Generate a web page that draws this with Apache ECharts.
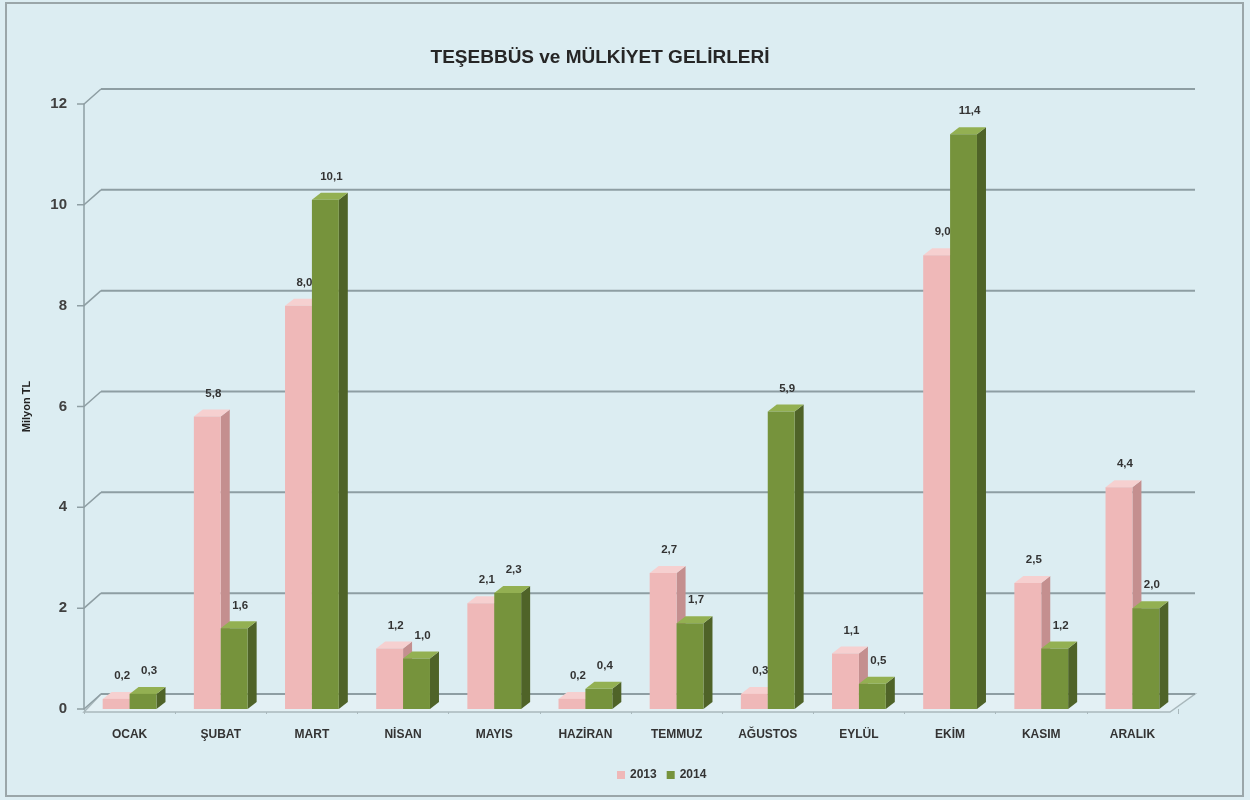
<!DOCTYPE html>
<html>
<head>
<meta charset="utf-8">
<script src="https://cdn.jsdelivr.net/npm/echarts@6/dist/echarts.min.js"></script>
<style>
html,body{margin:0;padding:0;background:#dcedf2;}
#c{width:1250px;height:800px;}
</style>
</head>
<body>
<div id="c"></div>
<script>
const categories = ['OCAK','ŞUBAT','MART','NİSAN','MAYIS','HAZİRAN','TEMMUZ','AĞUSTOS','EYLÜL','EKİM','KASIM','ARALIK'];
const values2013 = [0.2, 5.8, 8.0, 1.2, 2.1, 0.2, 2.7, 0.3, 1.1, 9.0, 2.5, 4.4];
const values2014 = [0.3, 1.6, 10.1, 1.0, 2.3, 0.4, 1.7, 5.9, 0.5, 11.4, 1.2, 2.0];
const yTicks = [0, 2, 4, 6, 8, 10, 12];
const seriesNames = ['2013', '2014'];

const WALL_DX = 17, WALL_DY = -15;
const BAR_DX = 9, BAR_DY = -7;
const FONT = '"Liberation Sans", "DejaVu Sans", sans-serif';

const palette = [
  {front: '#efb8b8', side: '#c48f8f', top: '#f6d0d0', legend: '#efb8b8'},
  {front: '#76933c', side: '#4f6328', top: '#93b052', legend: '#76933c'}
];

function fmt(v){ return v.toFixed(1).replace('.', ','); }

function barRender(s){
  return function(params, api){
    const i = api.value(0), v = api.value(1);
    const top = api.coord([i, v]);
    const base = api.coord([i, 0]);
    const bw = api.size([1, 0])[0] * 0.295;
    const x0 = top[0] - bw + s * bw;
    const c = palette[s];
    const y1 = top[1], y0 = base[1];
    return {
      type: 'group',
      children: [
        {type: 'polygon', shape: {points: [[x0+bw, y1],[x0+bw+BAR_DX, y1+BAR_DY],[x0+bw+BAR_DX, y0+BAR_DY],[x0+bw, y0]]}, style: {fill: c.side}},
        {type: 'polygon', shape: {points: [[x0, y1],[x0+BAR_DX, y1+BAR_DY],[x0+bw+BAR_DX, y1+BAR_DY],[x0+bw, y1]]}, style: {fill: c.top}},
        {type: 'rect', shape: {x: x0, y: y1, width: bw, height: y0 - y1}, style: {fill: c.front}},
        {type: 'text', z2: 100, style: {x: x0 + bw/2 + 6, y: y1 - 17, text: fmt(v), fill: '#333', font: 'bold 11.5px ' + FONT, align: 'center', verticalAlign: 'bottom'}}
      ]
    };
  };
}

function wallRender(params, api){
  const v = api.value(1);
  const p = api.coord([0, v]);
  const cs = params.coordSys;
  const y = p[1];
  const xl = cs.x;
  const xr = cs.x + cs.width;
  const children = [
    {type: 'polyline', shape: {points: [[xl-7, y],[xl, y],[xl+WALL_DX, y+WALL_DY]]}, style: {stroke: '#8e9ea3', lineWidth: 1.5, fill: null}},
    {type: 'line', shape: {x1: xl+WALL_DX, y1: y+WALL_DY, x2: xr+WALL_DX, y2: y+WALL_DY}, style: {stroke: '#8e9ea3', lineWidth: 2}}
  ];
  if (v === 0) {
    children.unshift({type: 'polygon', shape: {points: [[xl, y+3],[xr-8, y+3],[xr+WALL_DX, y+WALL_DY],[xl+WALL_DX, y+WALL_DY]]}, style: {fill: '#e3f0f4', stroke: '#a9b8bc', lineWidth: 1.5}});
  }
  return {type: 'group', children: children};
}

const chart = echarts.init(document.getElementById('c'));
chart.setOption({
  backgroundColor: '#dcedf2',
  animation: false,
  title: {
    text: 'TEŞEBBÜS ve MÜLKİYET GELİRLERİ',
    left: 595, top: 43, textAlign: 'center',
    textStyle: {fontFamily: FONT, fontWeight: 'bold', fontSize: 19, color: '#262626'}
  },
  graphic: [
    {type: 'rect', shape: {x: 6, y: 3, width: 1237, height: 793}, style: {fill: null, stroke: '#9aa6a9', lineWidth: 2}, silent: true}
  ],
  legend: {
    data: seriesNames,
    left: 612, top: 764,
    icon: 'rect', itemWidth: 8, itemHeight: 8, itemGap: 10,
    textStyle: {fontFamily: FONT, fontWeight: 'bold', fontSize: 12, color: '#333'}
  },
  grid: {left: 84, right: 72, top: 104, bottom: 91},
  xAxis: {
    type: 'category', data: categories,
    axisLine: {show: false},
    axisTick: {show: true, length: 5, lineStyle: {color: '#a9b8bc'}},
    axisLabel: {margin: 20, fontFamily: FONT, fontWeight: 'bold', fontSize: 12, color: '#333'}
  },
  yAxis: {
    type: 'value', min: 0, max: 12, interval: 2,
    name: 'Milyon TL', nameLocation: 'middle', nameGap: 52, nameRotate: 90,
    nameTextStyle: {fontFamily: FONT, fontWeight: 'bold', fontSize: 11, color: '#222'},
    axisLine: {show: true, lineStyle: {color: '#8e9ea3', width: 1.5}},
    axisTick: {show: false},
    splitLine: {show: false},
    axisLabel: {margin: 17, fontFamily: FONT, fontWeight: 'bold', fontSize: 15, color: '#404040'}
  },
  series: [
    {type: 'custom', name: 'wall', silent: true, z: 1, data: yTicks.map(v => [0, v]), encode: {x: 0, y: 1}, renderItem: wallRender},
    {type: 'custom', name: seriesNames[0], z: 2, itemStyle: {color: palette[0].legend}, data: values2013.map((v, i) => [i, v]), encode: {x: 0, y: 1}, renderItem: barRender(0)},
    {type: 'custom', name: seriesNames[1], z: 3, itemStyle: {color: palette[1].legend}, data: values2014.map((v, i) => [i, v]), encode: {x: 0, y: 1}, renderItem: barRender(1)}
  ]
});
</script>
</body>
</html>
